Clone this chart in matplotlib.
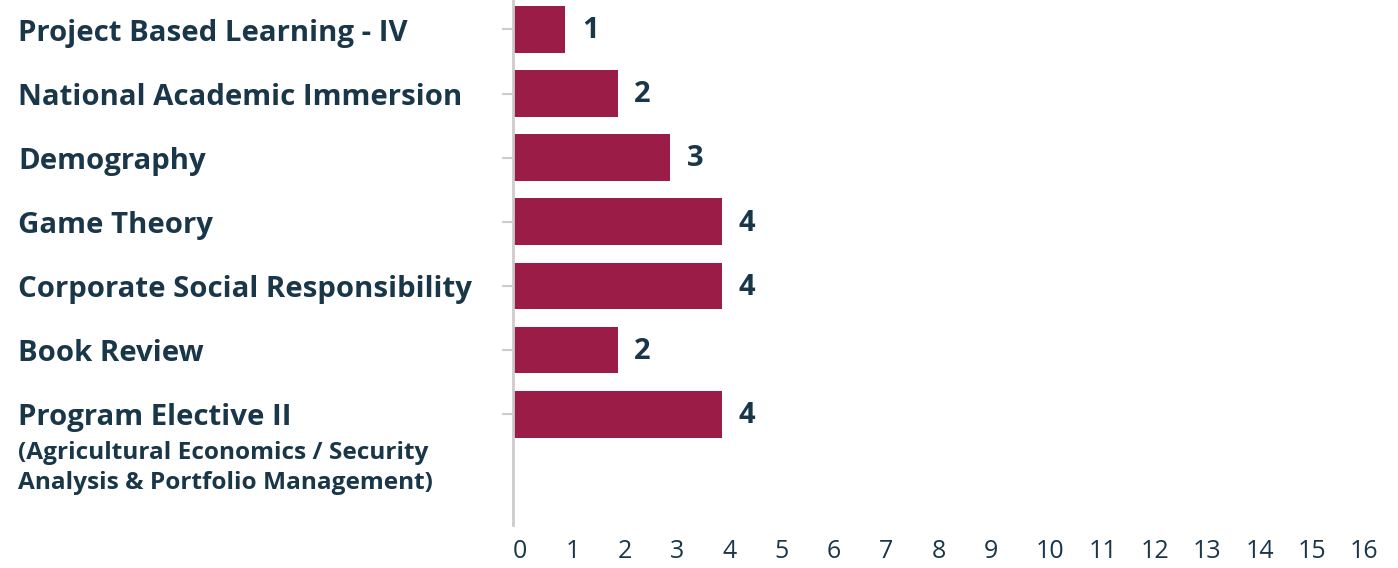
import matplotlib.pyplot as plt
import matplotlib.transforms as mtransforms

courses = [
    "Project Based Learning - IV",
    "National Academic Immersion",
    "Demography",
    "Game Theory",
    "Corporate Social Responsibility",
    "Book Review",
    "Program Elective II",
]
last_note = "(Agricultural Economics / Security\nAnalysis & Portfolio Management)"
counts = [1, 2, 3, 4, 4, 2, 4]
x_ticks = list(range(0, 17))

bar_color = "#9b1c47"
text_color = "#1a3649"
axis_gray = "#cccccc"

plt.rcParams["font.family"] = ["Open Sans", "DejaVu Sans"]

fig = plt.figure(figsize=(13.98, 5.68), dpi=100)
ax = fig.add_axes([513 / 1398, 43 / 568, 837 / 1398, 525 / 568])

ypos = list(range(len(courses)))
ax.barh(ypos, counts, height=0.73, color=bar_color)

for y, v in zip(ypos, counts):
    ax.text(v + 0.32, y + 0.02, str(v), va="center", ha="left",
            fontsize=21, fontweight="bold", color=text_color)

# category labels, left aligned at the figure edge
trans = mtransforms.blended_transform_factory(fig.transFigure, ax.transData)
for y, name in zip(ypos, courses):
    ax.text(18 / 1398, y + 0.06, name, transform=trans, ha="left", va="center",
            fontsize=21.2, fontweight="bold", color=text_color, clip_on=False)
ax.text(18 / 1398, ypos[-1] + 0.84, last_note, transform=trans, ha="left",
        va="center", fontsize=17.6, fontweight="bold", color=text_color,
        linespacing=1.3, clip_on=False)

ax.set_xlim(0, 16)
ax.set_ylim(7.73, -0.46)
ax.set_xticks(x_ticks)
ax.set_xticklabels([str(t) for t in x_ticks], ha="left", fontsize=18,
                   color=text_color)
ax.tick_params(axis="x", length=0, pad=10)
ax.set_yticks(ypos)
ax.set_yticklabels([])
ax.tick_params(axis="y", length=8, width=1.5, color=axis_gray)

for side in ["top", "right", "bottom"]:
    ax.spines[side].set_visible(False)
ax.spines["left"].set_color(axis_gray)
ax.spines["left"].set_linewidth(2)

fig.savefig("out.png", dpi=100)
